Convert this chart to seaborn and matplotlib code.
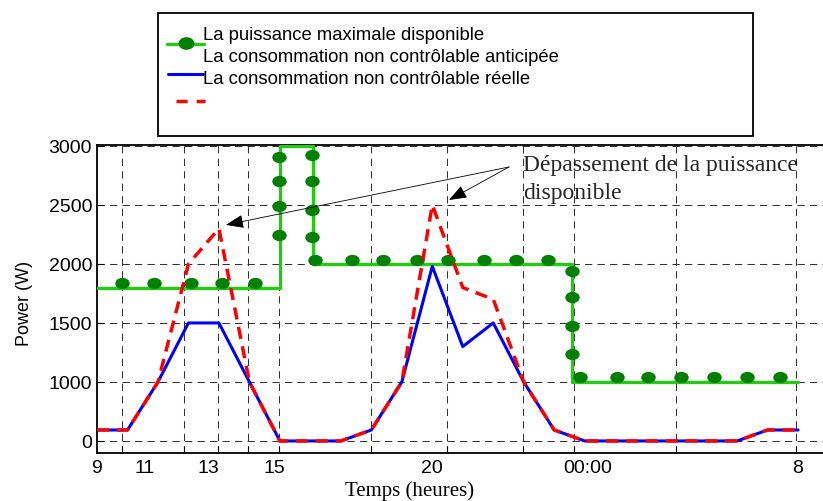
import numpy as np
import pandas as pd
import matplotlib
matplotlib.use("Agg")
import matplotlib.pyplot as plt
from matplotlib.path import Path
from matplotlib.patches import Rectangle
import seaborn as sns

# ---------------- data ----------------
hours = [9, 10, 11, 12, 13, 14, 15, 16, 17, 18, 19, 20, 21, 22, 23, 24,
         25, 26, 27, 28, 29, 30, 31, 32]
conso_reelle = [186, 186, 1000, 1500, 1500, 1000, 0, 0, 0, 186, 1000, 1980,
                1300, 1500, 1000, 186, 0, 0, 0, 0, 0, 0, 186, 186]
conso_anticipee = [186, 186, 1000, 2000, 2300, 1000, 0, 0, 0, 186, 1000, 2500,
                   1800, 1700, 1000, 186, 0, 0, 0, 0, 0, 0, 186, 186]

# available power (step function, value holds until next breakpoint)
pmax_hours = [9, 15, 16.1, 24.6, 32]
pmax_vals = [1800, 3000, 2000, 1000, 1000]

# marker samples of available power
pmax_mk_hours = [9.82, 10.87, 12.08, 13.1, 14.18,
                 14.97, 14.97, 14.97, 14.97,
                 16.05, 16.05, 16.05, 16.05,
                 16.15, 17.37, 18.38, 19.5, 20.52, 21.7, 22.75, 23.8,
                 24.58, 24.58, 24.58, 24.58,
                 24.85, 26.06, 27.08, 28.16, 29.24, 30.33, 31.41]
pmax_mk_vals = [1840, 1840, 1840, 1840, 1840,
                2907, 2703, 2492, 2246,
                2925, 2703, 2460, 2230,
                2030, 2030, 2030, 2030, 2030, 2030, 2030, 2030,
                1941, 1720, 1475, 1237,
                1042, 1042, 1042, 1042, 1042, 1042, 1042]

ytick_vals = [0, 1000, 1500, 2000, 2500, 3000]
xgrid_hours = [9.82, 11.85, 12.97, 13.95, 14.97, 17.99, 20.48, 22.98, 24.65, 27.99, 31.93]
xlabel_hours = [9, 10.57, 12.64, 14.81, 19.99, 25.11, 32.0]
xlabel_text = ["9", "11", "13", "15", "20", "00:00", "8"]

legend_labels = ["La puissance maximale disponible",
                 "La consommation non contrôlable anticipée",
                 "La consommation non contrôlable réelle"]
annot_text = "Dépassement de la puissance\ndisponible"
annot_tips = [(13.23, 2331), (20.55, 2542)]
annot_start = (22.52, 2822)

# ---------------- style ----------------
sns.set_style("white")
plt.rcParams["font.family"] = ["Liberation Sans", "DejaVu Sans"]

GREEN = "#22cc11"
DKGREEN = "#007f00"
BLUE = "#0000ff"
RED = "#ff0000"

circ = Path.unit_circle()
ellipse = Path(circ.vertices * np.array([1.0, 0.78]), circ.codes)

fig = plt.figure(figsize=(8.23, 5.02), dpi=100)
W, H = 823, 502
ax = fig.add_axes([97 / W, (H - 454) / H, (W - 97) / W, (454 - 146) / H])


def fwd(v):
    v = np.asarray(v, dtype=float)
    return np.where(v <= 1000, v / 2.0, v - 500.0)


def inv(p):
    p = np.asarray(p, dtype=float)
    return np.where(p <= 500, p * 2.0, p + 500.0)


ax.set_yscale("function", functions=(fwd, inv))

df = pd.DataFrame({"h": hours, "reelle": conso_reelle, "anticipee": conso_anticipee})
dfp = pd.DataFrame({"h": pmax_hours, "p": pmax_vals})
dfm = pd.DataFrame({"h": pmax_mk_hours, "p": pmax_mk_vals})

sns.lineplot(data=dfp, x="h", y="p", ax=ax, color=GREEN, lw=2.4,
             drawstyle="steps-post", zorder=3, legend=False)
sns.scatterplot(data=dfm, x="h", y="p", ax=ax, marker=ellipse, s=108,
                color=DKGREEN, linewidth=0, zorder=4, legend=False)
sns.lineplot(data=df, x="h", y="reelle", ax=ax, color=BLUE, lw=2.2,
             zorder=5, legend=False)
sns.lineplot(data=df, x="h", y="anticipee", ax=ax, color=RED, lw=2.5,
             zorder=6, legend=False)
ax.lines[-1].set_linestyle((0, (3.5, 2.2)))

ax.set_xlim(9, 9 + 726 / 30.48)
ax.set_ylim(-204, 3008)

ax.set_yticks(ytick_vals)
ax.set_yticklabels([str(v) for v in ytick_vals])
ax.set_xticks(xgrid_hours)
ax.set_xticklabels([])
ax.set_xticks(xlabel_hours, minor=True)
ax.set_xticklabels(xlabel_text, minor=True)
ax.yaxis.set_minor_locator(matplotlib.ticker.NullLocator())

ax.tick_params(axis="both", which="major", direction="in", length=5, width=0.8,
               color="black", labelsize=14, labelcolor="black")
ax.tick_params(axis="y", which="major", pad=3.5, left=True)
ax.tick_params(axis="x", which="major", bottom=True)
ax.tick_params(axis="x", which="minor", length=0, pad=4, labelsize=14, labelcolor="black")

ax.grid(True, which="major", color="#333333", linestyle=(0, (7, 5)), linewidth=0.75)

for side in ["left", "bottom", "top"]:
    ax.spines[side].set_visible(True)
    ax.spines[side].set_color("black")
    ax.spines[side].set_linewidth(1.3)
ax.spines["right"].set_visible(False)

ax.set_ylabel("Power (W)", fontsize=13, color="black")
ax.yaxis.set_label_coords(-0.088, 0.49)
ax.set_xlabel("Temps (heures)", fontsize=15, color="black",
              family=["Liberation Serif", "DejaVu Serif"])
ax.xaxis.set_label_coords(0.431, -0.088)

# annotation
ax.text(22.98, 2932, annot_text, fontsize=17, va="top", ha="left",
        family=["Liberation Serif", "DejaVu Serif"], linespacing=1.42, zorder=7)
for tip in annot_tips:
    ax.annotate("", xy=tip, xytext=annot_start,
                arrowprops=dict(arrowstyle="-|>,head_length=1.1,head_width=0.42",
                                mutation_scale=10, lw=0.6, color="black",
                                shrinkA=0, shrinkB=0), zorder=7)

# custom legend box (as in the original figure)
lax = fig.add_axes([0, 0, 1, 1], facecolor="none")
lax.set_xlim(0, W)
lax.set_ylim(H, 0)
lax.axis("off")
lax.add_patch(Rectangle((158, 14), 595, 123, facecolor="white",
                        edgecolor="black", lw=1.3))
for yy, txt in zip([35, 58, 79], legend_labels):
    lax.text(203, yy, txt, fontsize=13.3, va="center", ha="left", color="black")
lax.plot([167, 204], [45, 45], color=GREEN, lw=2.4)
lax.plot([186], [44], marker=ellipse, markersize=10.4, color=DKGREEN, lw=0)
lax.plot([168, 203], [75, 75], color=BLUE, lw=2.2)
lax.plot([176, 205], [102, 102], color=RED, lw=2.5, linestyle=(0, (3.2, 2.6)))

fig.savefig("out.png", dpi=100)
